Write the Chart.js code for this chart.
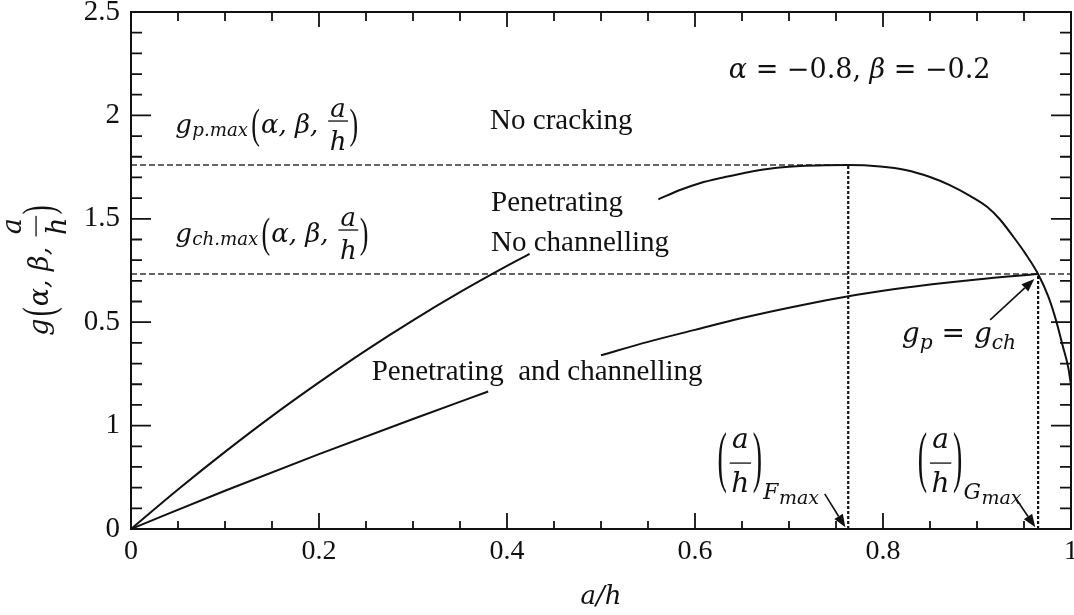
<!DOCTYPE html>
<html>
<head>
<meta charset="utf-8">
<script src="https://cdn.jsdelivr.net/npm/chart.js@4.4.1/dist/chart.umd.min.js"></script>
<style>
  html, body { margin: 0; padding: 0; background: #fff; }
  canvas { display: block; }
</style>
</head>
<body>
<canvas id="chart" width="1074" height="615"></canvas>
<script>
// Penetrating-crack curve g_p(a/h); null leaves the gap where the region labels sit
const gpX = [0, 0.05, 0.1, 0.15, 0.2, 0.25, 0.3, 0.35, 0.4, 0.424, null,
  0.561, 0.584, 0.605, 0.632, 0.659, 0.685, 0.712, 0.738, 0.763, 0.797, 0.824, 0.850, 0.871,
  0.893, 0.911, 0.924, 0.938, 0.951, 0.965, 0.976, 0.984, 0.991, 0.997, 1.0];
const gpY = [0, 0.191, 0.373, 0.546, 0.709, 0.864, 1.009, 1.145, 1.272, 1.33, null,
  1.594, 1.639, 1.672, 1.702, 1.728, 1.746, 1.755, 1.759, 1.760, 1.753, 1.736, 1.702, 1.663,
  1.610, 1.557, 1.499, 1.417, 1.335, 1.233, 1.122, 1.010, 0.889, 0.783, 0.696];

// Channelling curve g_ch(a/h)
const gchX = [0, 0.1, 0.2, 0.3, 0.38, null, 0.5, 0.55, 0.6, 0.65, 0.7, 0.75, 0.8, 0.85, 0.9, 0.965];
const gchY = [0, 0.185, 0.362, 0.532, 0.665, null, 0.84, 0.905, 0.963, 1.02, 1.07, 1.115, 1.152, 1.182, 1.207, 1.233];

// Maxima and the crack depths where they occur
const gpMax = 1.76;
const gchMax = 1.233;
const aFmax = 0.763;
const aGmax = 0.965;

// Axis ticks
const xTickValues = [0, 0.2, 0.4, 0.6, 0.8, 1];
const xTickLabels = ['0', '0.2', '0.4', '0.6', '0.8', '1'];
const yTickValues = [0, 0.5, 1, 1.5, 2, 2.5];
const yTickLabels = ['0', '1', '0.5', '1.5', '2', '2.5'];

const SERIF = '"Liberation Serif", "Times New Roman", serif';
const MATH = '"DejaVu Serif", "Liberation Serif", serif';
const INK = '#111';

const pts = (xs, ys) => xs.map((x, i) => ({ x: x, y: ys[i] }));

// Small inline math typesetter: text runs, subscripts, tall parentheses, fractions
function mathRun(ctx, toks, x0, ay, s, draw) {
  let x = x0;
  ctx.textAlign = 'left';
  ctx.textBaseline = 'alphabetic';
  for (const t of toks) {
    const sz = s * (t.r || 1);
    if (t.k === 'txt') {
      ctx.font = (t.up ? '' : 'italic ') + sz + 'px ' + (t.fam || MATH);
      if (draw) ctx.fillText(t.v, x, ay + s * t.dy);
      x += ctx.measureText(t.v).width + (t.gap || 0) * s;
    } else if (t.k === 'par') {
      ctx.font = sz + 'px ' + SERIF;
      const w = ctx.measureText(t.v).width;
      if (draw) {
        ctx.save();
        ctx.translate(x, ay + s * t.c);
        ctx.scale(1, t.h);
        ctx.fillText(t.v, 0, 0.26 * sz);
        ctx.restore();
      }
      x += w + 0.04 * s;
    } else if (t.k === 'frac') {
      ctx.font = 'italic ' + sz + 'px ' + MATH;
      const wn = ctx.measureText(t.n).width;
      const wd = ctx.measureText(t.d).width;
      const w = Math.max(wn, wd) + 0.24 * s;
      if (draw) {
        ctx.fillText(t.n, x + (w - wn) / 2, ay - s * t.nu);
        ctx.fillText(t.d, x + (w - wd) / 2, ay + s * t.dd);
        ctx.fillRect(x + 0.06 * s, ay - 0.6, w - 0.12 * s, 1.3);
      }
      x += w;
    }
  }
  return x - x0;
}

const gpMaxExpr = [
  { k: 'txt', v: 'g', dy: 0.46, gap: 0.02 },
  { k: 'txt', v: 'p.max', r: 0.7, dy: 0.58, gap: 0.12 },
  { k: 'par', v: '(', h: 1.64, c: 0.21 },
  { k: 'txt', v: '\u03b1, \u03b2, ', dy: 0.46 },
  { k: 'frac', n: 'a', d: 'h', nu: 0.15, dd: 1.12 },
  { k: 'par', v: ')', h: 1.64, c: 0.21 }
];
const gchMaxExpr = [
  { k: 'txt', v: 'g', dy: 0.46, gap: 0.02 },
  { k: 'txt', v: 'ch.max', r: 0.7, dy: 0.58, gap: 0.12 },
  { k: 'par', v: '(', h: 1.64, c: 0.21 },
  { k: 'txt', v: '\u03b1, \u03b2, ', dy: 0.46 },
  { k: 'frac', n: 'a', d: 'h', nu: 0.15, dd: 1.12 },
  { k: 'par', v: ')', h: 1.64, c: 0.21 }
];
const paramExpr = [
  { k: 'txt', v: '\u03b1', dy: 0 },
  { k: 'txt', v: ' = \u22120.8, ', up: true, dy: 0 },
  { k: 'txt', v: '\u03b2', dy: 0 },
  { k: 'txt', v: ' = \u22120.2', up: true, dy: 0 }
];
const equalExpr = [
  { k: 'txt', v: 'g', dy: 0 },
  { k: 'txt', v: 'p', r: 0.72, dy: 0.22 },
  { k: 'txt', v: ' = ', up: true, dy: 0 },
  { k: 'txt', v: 'g', dy: 0 },
  { k: 'txt', v: 'ch', r: 0.72, dy: 0.22 }
];
const depthExpr = (sub) => [
  { k: 'par', v: '(', h: 2.45, c: -0.08 },
  { k: 'frac', n: 'a', d: 'h', nu: 0.52, dd: 1.05 },
  { k: 'par', v: ')', h: 2.45, c: -0.08 },
  { k: 'txt', v: sub, r: 0.78, dy: 1.3, gap: 0.02 },
  { k: 'txt', v: 'max', r: 0.68, dy: 1.45 }
];
const yTitleExpr = [
  { k: 'txt', v: 'g', dy: 0.46, gap: 0.08 },
  { k: 'par', v: '(', h: 1.64, c: 0.21 },
  { k: 'txt', v: '\u03b1, \u03b2, ', dy: 0.46 },
  { k: 'frac', n: 'a', d: 'h', nu: 0.57, dd: 1.12 },
  { k: 'par', v: ')', h: 1.64, c: 0.21 }
];

function arrow(ctx, x1, y1, x2, y2) {
  const ang = Math.atan2(y2 - y1, x2 - x1);
  const hl = 13, hw = 5;
  const bx = x2 - hl * Math.cos(ang), by = y2 - hl * Math.sin(ang);
  ctx.beginPath();
  ctx.moveTo(x1, y1);
  ctx.lineTo(bx, by);
  ctx.lineWidth = 1.6;
  ctx.stroke();
  ctx.beginPath();
  ctx.moveTo(x2, y2);
  ctx.lineTo(bx - hw * Math.sin(ang), by + hw * Math.cos(ang));
  ctx.lineTo(bx + hw * Math.sin(ang), by - hw * Math.cos(ang));
  ctx.closePath();
  ctx.fill();
}

// Frame, inward tick marks, labels and arrows
const decorations = {
  id: 'decorations',
  afterDatasetsDraw(chart) {
    const ctx = chart.ctx;
    const xs = chart.scales.x, ys = chart.scales.y;
    const a = chart.chartArea;
    const px = (v) => xs.getPixelForValue(v);
    const py = (v) => ys.getPixelForValue(v);
    ctx.save();
    ctx.strokeStyle = INK;
    ctx.fillStyle = INK;

    // frame
    ctx.lineWidth = 2;
    ctx.strokeRect(a.left, a.top, a.right - a.left, a.bottom - a.top);

    // tick marks on all four sides
    ctx.lineWidth = 1.8;
    ctx.beginPath();
    for (let k = 0; k <= 20; k++) {
      const v = k * 0.05;
      const major = k % 4 === 0;
      const x = px(v);
      ctx.moveTo(x, a.bottom); ctx.lineTo(x, a.bottom - (major ? 16 : 8));
      ctx.moveTo(x, a.top); ctx.lineTo(x, a.top + (major ? 15 : 9));
    }
    for (let k = 0; k <= 25; k++) {
      const v = k * 0.1;
      const major = k % 5 === 0;
      const y = py(v);
      ctx.moveTo(a.left, y); ctx.lineTo(a.left + (major ? 20 : 11), y);
      ctx.moveTo(a.right, y); ctx.lineTo(a.right - (major ? 20 : 11), y);
    }
    ctx.stroke();

    // region labels
    ctx.textAlign = 'left';
    ctx.textBaseline = 'alphabetic';
    ctx.font = '29px ' + SERIF;
    ctx.fillText('No cracking', px(0.382), py(1.934));
    ctx.fillText('Penetrating', px(0.383), py(1.538));
    ctx.fillText('No channelling', px(0.383), py(1.344));
    ctx.fillText('Penetrating  and channelling', px(0.256), py(0.72));

    // math labels
    mathRun(ctx, paramExpr, px(0.636), py(2.181), 27, true);
    mathRun(ctx, gpMaxExpr, px(0.047), py(1.973), 26, true);
    mathRun(ctx, gchMaxExpr, px(0.047), py(1.446), 26, true);
    mathRun(ctx, equalExpr, px(0.82), py(0.902), 28, true);
    mathRun(ctx, depthExpr('F'), px(0.624), py(0.319), 28, true);
    mathRun(ctx, depthExpr('G'), px(0.837), py(0.319), 28, true);

    // arrows
    arrow(ctx, px(0.914), py(1.011), px(0.961), py(1.209));
    arrow(ctx, px(0.738), py(0.17), px(aFmax - 0.003), py(0.008));
    arrow(ctx, px(0.941), py(0.15), px(aGmax - 0.003), py(0.008));

    // rotated y-axis title
    const w = mathRun(ctx, yTitleExpr, 0, 0, 27, false);
    ctx.translate(36, 270);
    ctx.rotate(-Math.PI / 2);
    mathRun(ctx, yTitleExpr, -w / 2, 0, 27, true);
    ctx.restore();
  }
};

new Chart(document.getElementById('chart'), {
  type: 'line',
  data: {
    datasets: [
      {
        data: pts(gpX, gpY),
        borderColor: INK, borderWidth: 2, pointRadius: 0,
        cubicInterpolationMode: 'monotone', spanGaps: false, order: 1
      },
      {
        data: pts(gchX, gchY),
        borderColor: INK, borderWidth: 2, pointRadius: 0,
        cubicInterpolationMode: 'monotone', spanGaps: false, order: 1
      },
      {
        data: [{ x: 0, y: gpMax }, { x: aFmax, y: gpMax }],
        borderColor: '#333', borderWidth: 1.4, borderDash: [6, 3], pointRadius: 0, order: 2
      },
      {
        data: [{ x: 0, y: gchMax }, { x: 1, y: gchMax }],
        borderColor: '#333', borderWidth: 1.4, borderDash: [6, 3], pointRadius: 0, order: 2
      },
      {
        data: [{ x: aFmax, y: 0 }, { x: aFmax, y: gpMax }],
        borderColor: INK, borderWidth: 2.2, borderDash: [3, 2], pointRadius: 0, order: 2
      },
      {
        data: [{ x: aGmax, y: 0 }, { x: aGmax, y: gchMax }],
        borderColor: INK, borderWidth: 2.2, borderDash: [3, 2], pointRadius: 0, order: 2
      }
    ]
  },
  options: {
    responsive: false,
    animation: false,
    devicePixelRatio: 1,
    layout: { padding: { top: 12, right: 3, left: 0, bottom: 0 } },
    plugins: { legend: { display: false }, tooltip: { enabled: false } },
    scales: {
      x: {
        type: 'linear', min: 0, max: 1,
        grid: { display: false, drawTicks: false },
        border: { display: false },
        afterBuildTicks: (s) => { s.ticks = xTickValues.map(v => ({ value: v })); },
        afterFit: (s) => { s.height = 86; s.paddingLeft = 0; s.paddingRight = 0; },
        ticks: {
          autoSkip: false, maxRotation: 0, padding: 6, color: INK,
          font: { family: SERIF, size: 28 },
          callback: (v, i) => xTickLabels[i]
        },
        title: {
          display: true, text: 'a/h', color: INK,
          font: { family: MATH, size: 26, style: 'italic' },
          padding: { top: 0, bottom: 2 }
        }
      },
      y: {
        type: 'linear', min: 0, max: 2.5,
        grid: { display: false, drawTicks: false },
        border: { display: false },
        afterBuildTicks: (s) => { s.ticks = yTickValues.map(v => ({ value: v })); },
        afterFit: (s) => { s.width = 131; s.paddingTop = 0; s.paddingBottom = 0; },
        ticks: {
          autoSkip: false, padding: 11, color: INK,
          font: { family: SERIF, size: 29 },
          callback: (v, i) => yTickLabels[i]
        }
      }
    }
  },
  plugins: [decorations]
});
</script>
</body>
</html>
